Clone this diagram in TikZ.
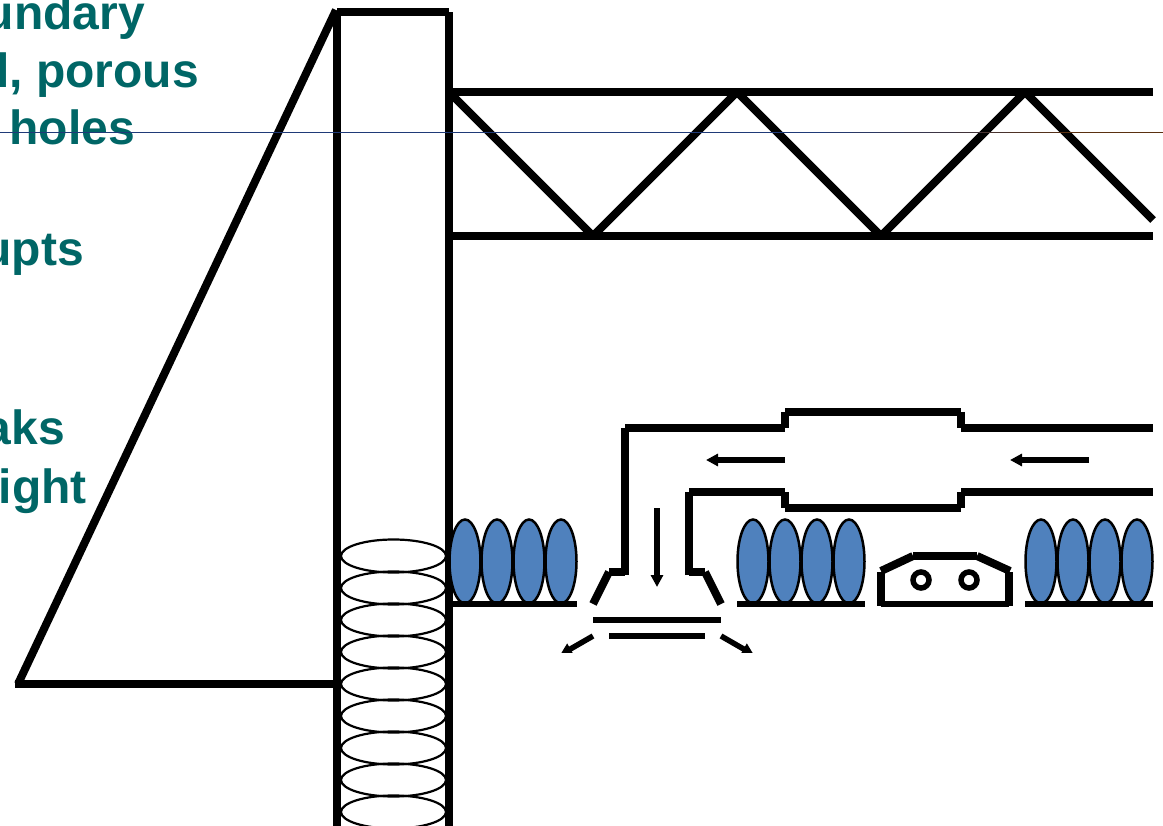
\documentclass[tikz,border=0pt]{standalone}
\usepackage{fontspec}
\setmainfont{Liberation Sans}
\usetikzlibrary{arrows.meta}
\definecolor{tealtext}{HTML}{006666}
\definecolor{coilblue}{HTML}{4F81BD}
\definecolor{linenavy}{HTML}{1F3A78}
\definecolor{linebrown}{HTML}{5A3010}
\begin{document}
\begin{tikzpicture}[x=1pt, y=-1pt,
	thick wall/.style={line width=8pt},
	thin plate/.style={line width=6pt},
	ring line/.style={line width=2.2pt},
	coil/.style={line width=2.5pt, fill=coilblue},
	flow/.style={line width=5.5pt, -{Triangle[length=12pt, width=12pt]}},
	label text/.style={font=\fontsize{48}{57.5}\selectfont\bfseries, text=tealtext, anchor=base east, inner sep=0pt}]
	\useasboundingbox (0, 0) rectangle (1163, 826);
	% Rings inside the shaft:
	\foreach \y in {556, 588, 620, 652, 684, 716, 748, 780, 812}
		\draw[ring line] (393.5, \y) ellipse (52.5 and 16.5);
	% Shaft and stay:
	\draw[thick wall] (337, 826) -- (337, 12);
	\draw[thick wall] (449, 826) -- (449, 12);
	\draw[thick wall] (337, 12) -- (449, 12);
	\draw[thick wall] (336, 10) -- (18, 684);
	\draw[thick wall] (15, 684) -- (337, 684);
	% Truss:
	\draw[thick wall] (449, 92) -- (1153, 92);
	\draw[thick wall] (449, 236) -- (1153, 236);
	\foreach \xa/\ya/\xb/\yb in {449/92/593/236, 593/236/737/92, 737/92/881/236, 881/236/1025/92, 1025/92/1153/220}
		\draw[thick wall] (\xa, \ya) -- (\xb, \yb);
	% Coils on their bases:
	\foreach \x in {465, 753, 1041} {
		\foreach \n in {0, 1, 2, 3}
			\draw[coil] (\x + 32*\n, 561.5) ellipse (15.5 and 42);
	}
	\draw[thin plate] (453, 604) -- (577, 604);
	\draw[thin plate] (737, 604) -- (865, 604);
	\draw[thin plate] (1025, 604) -- (1153, 604);
	% Duct:
	\draw[thick wall] (609, 572) -- (625, 572) (625, 575) -- (625, 428) (625, 428) -- (785, 428) (785, 428) -- (785, 412) (785, 412) -- (961, 412) (961, 412) -- (961, 428) (961, 428) -- (1153, 428);
	\draw[thick wall] (705, 572) -- (689, 572) (689, 575) -- (689, 492) (689, 492) -- (785, 492) (785, 492) -- (785, 508) (785, 508) -- (961, 508) (961, 508) -- (961, 492) (961, 492) -- (1153, 492);
	\draw[thick wall] (609, 572) -- (593, 604);
	\draw[thick wall] (705, 572) -- (721, 604);
	\draw[thin plate] (593, 620) -- (721, 620);
	\draw[thin plate] (609, 636) -- (705, 636);
	% Flow arrows:
	\draw[flow] (657, 508) -- (657, 587);
	\draw[flow] (785, 460) -- (706, 460);
	\draw[flow] (1089, 460) -- (1010, 460);
	\begin{scope}
		\clip (540, 620) rectangle (780, 652);
		\draw[flow] (593, 636) -- (560, 655);
		\draw[flow] (721, 636) -- (754, 655);
	\end{scope}
	% Cart:
	\draw[thick wall] (881, 572) -- (881, 606);
	\draw[thick wall] (1009, 572) -- (1009, 606);
	\draw[thin plate] (881, 604) -- (1009, 604);
	\draw[thick wall] (881, 571) -- (913, 556);
	\draw[thick wall] (913, 556) -- (977, 556);
	\draw[thick wall] (977, 556) -- (1010, 571);
	\draw[line width=5.5pt] (921, 580) circle (8);
	\draw[line width=5.5pt] (969, 580) circle (8);
	% Text cut by the page edge:
	\node[label text] (line one) at (145, 30) {undary};
	\node[label text] (line two) at (199, 88) {l, porous};
	\node[label text] (line three) at (135, 145) {holes};
	\node[label text] (line four) at (84, 266) {upts};
	\node[label text] (line five) at (65, 445) {aks};
	\node[label text] (line six) at (87, 503) {ight};
	% Hairline across the page:
	\fill[linenavy] (0, 132) rectangle (800, 133);
	\foreach \p in {0, 10, ..., 90}
		\fill[linebrown!\p!linenavy] (800 + 2.6*\p, 132) rectangle (826.5 + 2.6*\p, 133);
	\fill[linebrown] (1060, 132) rectangle (1163, 133);
\end{tikzpicture}
\end{document}
